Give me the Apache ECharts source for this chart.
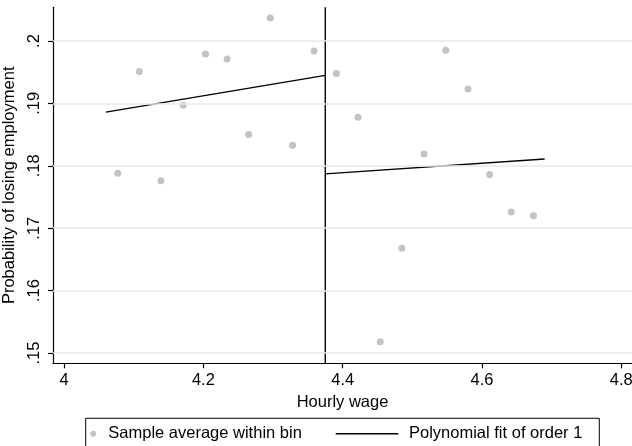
<!DOCTYPE html>
<html>
<head>
<meta charset="utf-8">
<script src="https://cdn.jsdelivr.net/npm/echarts@6/dist/echarts.min.js"></script>
<style>html,body{margin:0;padding:0;background:#fff}#c{width:632px;height:446px}</style>
</head>
<body>
<div id="c"></div>
<script>
// ---- data ----
var binX = [4.077, 4.108, 4.139, 4.171, 4.203, 4.234, 4.265, 4.296, 4.328, 4.359,
            4.391, 4.422, 4.454, 4.485, 4.517, 4.548, 4.580, 4.611, 4.642, 4.674];
var binY = [0.1788, 0.1951, 0.1776, 0.1897, 0.1979, 0.1971, 0.1850, 0.2037, 0.1833, 0.1984,
            0.1948, 0.1878, 0.1518, 0.1668, 0.1819, 0.1985, 0.1923, 0.1786, 0.1726, 0.1720];
var leftFitX = [4.060, 4.375];
var leftFitY = [0.1886, 0.1945];
var rightFitX = [4.375, 4.690];
var rightFitY = [0.1787, 0.1811];
var cutoff = 4.375;
var xTicks = [4, 4.2, 4.4, 4.6, 4.8];
var yTicks = [0.15, 0.16, 0.17, 0.18, 0.19, 0.2];
var yRange = [0.14835, 0.2054];
var xRange = [3.984, 4.8155];
var scatterName = 'Sample average within bin';
var fitName = 'Polynomial fit of order 1';
var xTitle = 'Hourly wage';
var yTitle = 'Probability of losing employment';

function pairs(xs, ys) { return xs.map(function (x, i) { return [x, ys[i]]; }); }

var FONT = 'Liberation Sans';
var FS = 16.5;

var chart = echarts.init(document.getElementById('c'), null, { renderer: 'canvas' });
chart.setOption({
  animation: false,
  backgroundColor: '#fff',
  textStyle: { fontFamily: FONT },
  grid: { left: 53, right: 0, top: 7.3, bottom: 82.7, containLabel: false, outerBoundsMode: 'none' },
  xAxis: {
    type: 'value', min: xRange[0], max: xRange[1],
    name: xTitle, nameLocation: 'middle', nameGap: 27,
    nameTextStyle: { fontFamily: FONT, fontSize: FS, color: '#000' },
    axisLine: { show: true, onZero: false, lineStyle: { color: '#000', width: 1.2 } },
    axisTick: { show: true, length: 5, customValues: xTicks, lineStyle: { color: '#000', width: 1.2 } },
    axisLabel: { customValues: xTicks, fontFamily: FONT, fontSize: FS, color: '#000', margin: 9,
                 showMinLabel: true, showMaxLabel: true,
                 formatter: function (v) { return String(v); } },
    splitLine: { show: false }
  },
  yAxis: {
    type: 'value', min: yRange[0], max: yRange[1],
    name: yTitle, nameLocation: 'middle', nameGap: 28,
    nameTextStyle: { fontFamily: FONT, fontSize: FS, color: '#000' },
    axisLine: { show: true, onZero: false, lineStyle: { color: '#000', width: 1.2 } },
    axisTick: { show: true, length: 5, customValues: yTicks, lineStyle: { color: '#000', width: 1.2 } },
    axisLabel: { customValues: yTicks, rotate: 90, fontFamily: FONT, fontSize: FS, color: '#000', margin: 10.5,
                 showMinLabel: true, showMaxLabel: true,
                 formatter: function (v) { return String(+v.toFixed(4)).replace(/^0/, ''); } },
    splitLine: { show: false }
  },
  legend: [
    {
      data: [scatterName], left: 90.3, top: 424.7, padding: 0,
      itemWidth: 6, itemHeight: 6, selectedMode: false,
      textStyle: { fontFamily: FONT, fontSize: FS, color: '#000', lineHeight: 18, padding: [0, 0, 0, 7] }
    },
    {
      data: [{ name: fitName, icon: 'rect' }], left: 335.7, top: 424.7, padding: 0,
      itemWidth: 62.6, itemHeight: 1.4, selectedMode: false,
      textStyle: { fontFamily: FONT, fontSize: FS, color: '#000', lineHeight: 18, padding: [0, 0, 0, 5.7] }
    }
  ],
  graphic: [
    { type: 'rect', shape: { x: 85.7, y: 418.3, width: 513.6, height: 40 },
      style: { fill: 'none', stroke: '#000', lineWidth: 1 }, silent: true }
  ],
  series: [
    {
      name: 'grid', type: 'line', data: [], z: 1, silent: true,
      markLine: {
        silent: true, symbol: ['none', 'none'], label: { show: false },
        lineStyle: { color: '#e8e8e8', width: 1.6, type: 'solid' },
        emphasis: { disabled: true },
        data: yTicks.map(function (v) { return { yAxis: v }; })
      }
    },
    {
      name: scatterName, type: 'scatter', z: 3,
      symbol: 'circle', symbolSize: 7,
      itemStyle: { color: '#b4b4b4' },
      data: pairs(binX, binY)
    },
    {
      name: 'cutoff', type: 'line', z: 4, symbol: 'none', showSymbol: false, silent: true,
      lineStyle: { color: '#000', width: 1.4 },
      data: [[cutoff, yRange[0]], [cutoff, yRange[1]]]
    },
    {
      name: fitName, type: 'line', z: 4, symbol: 'none', showSymbol: false,
      lineStyle: { color: '#000', width: 1.4 },
      itemStyle: { color: '#000' },
      data: pairs(leftFitX, leftFitY)
    },
    {
      name: fitName, type: 'line', z: 4, symbol: 'none', showSymbol: false,
      lineStyle: { color: '#000', width: 1.4 },
      itemStyle: { color: '#000' },
      data: pairs(rightFitX, rightFitY)
    }
  ]
});
</script>
</body>
</html>
